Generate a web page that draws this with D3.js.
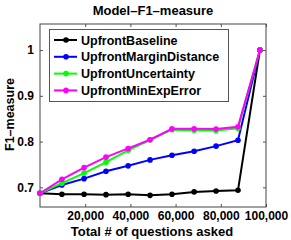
<!DOCTYPE html>
<html>
<head>
<meta charset="utf-8">
<script src="https://cdn.jsdelivr.net/npm/d3@7"></script>
<style>
  body { margin: 0; background: #fff; }
  svg { display: block; font-family: "Liberation Sans", Arial, sans-serif; font-weight: bold; }
</style>
</head>
<body>
<div id="chart"></div>
<script>
// questions asked (x) and F1 per strategy
const questions = [0, 9700, 19500, 29200, 39000, 48700, 58400, 68200, 77900, 87600, 97300];
const baseline  = [0.687, 0.685, 0.685, 0.684, 0.685, 0.6825, 0.685, 0.690, 0.692, 0.6935, 1.0];
const margin    = [0.687, 0.705, 0.719, 0.735, 0.747, 0.760, 0.770, 0.779, 0.790, 0.803, 1.0];
const uncert    = [0.687, 0.709, 0.731, 0.755, 0.781, 0.804, 0.826, 0.825, 0.824, 0.829, 1.0];
const minexp    = [0.687, 0.7175, 0.743, 0.766, 0.785, 0.804, 0.828, 0.828, 0.8275, 0.8325, 1.0];

const seriesNames = ["UpfrontBaseline", "UpfrontMarginDistance", "UpfrontUncertainty", "UpfrontMinExpError"];
const seriesColors = ["#000000", "#0000ff", "#00ff00", "#ff00ff"];
const seriesValues = [baseline, margin, uncert, minexp];

const xTicks = [20000, 40000, 60000, 80000, 100000];
const yTicks = [0.7, 0.8, 0.9, 1];

const W = 291, H = 240;
const box = {left: 40, right: 266, top: 24, bottom: 207};

const svg = d3.select("#chart").append("svg")
    .attr("width", W).attr("height", H);

const x = d3.scaleLinear().domain([0, 100000]).range([box.left, box.right]);
const y = d3.scaleLinear().domain([0.657, 1.057]).range([box.bottom, box.top]);

// axes, ticks drawn inward like matlab
const fmt = d3.format(",");
svg.append("g")
    .attr("transform", "translate(0," + box.bottom + ")")
    .call(d3.axisBottom(x).tickValues(xTicks).tickFormat(fmt).tickSizeInner(-3).tickSizeOuter(0).tickPadding(4))
    .call(g => g.select(".domain").remove());
svg.append("g")
    .attr("transform", "translate(0," + box.top + ")")
    .call(d3.axisTop(x).tickValues(xTicks).tickFormat("").tickSizeInner(-3).tickSizeOuter(0))
    .call(g => g.select(".domain").remove());
svg.append("g")
    .attr("transform", "translate(" + box.left + ",0)")
    .call(d3.axisLeft(y).tickValues(yTicks).tickFormat(d => d === 1 ? "1" : d3.format(".1f")(d)).tickSizeInner(-3).tickSizeOuter(0).tickPadding(6))
    .call(g => g.select(".domain").remove());
svg.append("g")
    .attr("transform", "translate(" + box.right + ",0)")
    .call(d3.axisRight(y).tickValues(yTicks).tickFormat("").tickSizeInner(-3).tickSizeOuter(0))
    .call(g => g.select(".domain").remove());

svg.selectAll(".tick text")
    .attr("fill", "#000")
    .style("font-size", "12px")
    .style("font-weight", "bold")
    .style("font-family", "'Liberation Sans', Arial, sans-serif");
svg.selectAll(".tick line").attr("stroke", "#555");

svg.append("rect")
    .attr("x", box.left).attr("y", box.top)
    .attr("width", box.right - box.left).attr("height", box.bottom - box.top)
    .attr("fill", "none").attr("stroke", "#444").attr("stroke-width", 1);

// lines
const line = d3.line().x((d, i) => x(questions[i])).y(d => y(d));
seriesValues.forEach((vals, k) => {
    svg.append("path")
        .datum(vals)
        .attr("fill", "none")
        .attr("stroke", seriesColors[k])
        .attr("stroke-width", 2)
        .attr("d", line);
    svg.append("g").selectAll("circle")
        .data(vals)
        .enter().append("circle")
        .attr("cx", (d, i) => x(questions[i]))
        .attr("cy", d => y(d))
        .attr("r", 2.8)
        .attr("fill", seriesColors[k]);
});

// legend
const leg = svg.append("g");
leg.append("rect")
    .attr("x", 49.5).attr("y", 29.5).attr("width", 179).attr("height", 72)
    .attr("fill", "#fff").attr("stroke", "#555").attr("stroke-width", 1);
seriesNames.forEach((name, k) => {
    const ly = 40 + k * 16.8;
    leg.append("line")
        .attr("x1", 54).attr("x2", 77).attr("y1", ly).attr("y2", ly)
        .attr("stroke", seriesColors[k]).attr("stroke-width", 2);
    leg.append("circle")
        .attr("cx", 66).attr("cy", ly).attr("r", 2.8).attr("fill", seriesColors[k]);
    leg.append("text")
        .attr("x", 81).attr("y", ly + 4.5)
        .style("font-size", "12.5px")
        .text(name);
});

// titles
svg.append("text")
    .attr("x", 153).attr("y", 15)
    .attr("text-anchor", "middle")
    .style("font-size", "13px")
    .text("Model\u2013F1\u2013measure");
svg.append("text")
    .attr("x", 152).attr("y", 236)
    .attr("text-anchor", "middle")
    .style("font-size", "13px")
    .text("Total # of questions asked");
svg.append("text")
    .attr("transform", "translate(14," + ((box.top + box.bottom) / 2 - 1) + ") rotate(-90)")
    .attr("text-anchor", "middle")
    .style("font-size", "12.5px")
    .text("F1\u2013measure");
</script>
</body>
</html>
